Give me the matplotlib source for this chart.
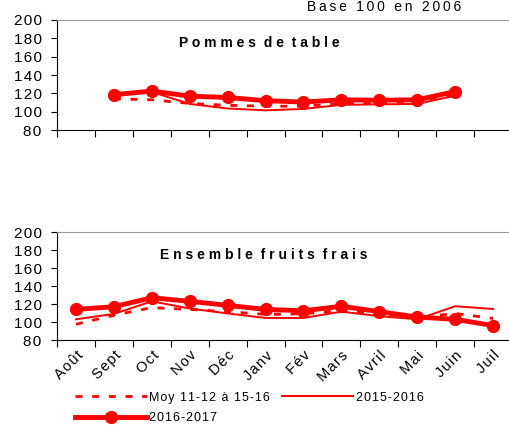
import matplotlib
matplotlib.use("Agg")
import matplotlib.pyplot as plt
import matplotlib.transforms as mtransforms
import numpy as np

plt.rcParams["font.family"] = ["Liberation Sans", "DejaVu Sans"]

mois = ["Août", "Sept", "Oct", "Nov", "Déc", "Janv", "Fév", "Mars", "Avril", "Mai", "Juin", "Juil"]

# Pommes de table (Sept -> Juin)
pommes_moy = [None, 114, 113, 109, 107, 106, 106, 109, 110, 111, 118, None]
pommes_1516 = [None, 118, 121.5, 108.5, 103.5, 101.5, 103, 107.5, 108, 108.5, 117.5, None]
pommes_1617 = [None, 118.5, 122.5, 117, 115.5, 112, 110.5, 113, 112.5, 113, 122, None]

# Ensemble fruits frais
fruits_moy = [97.5, 107.5, 116, 114, 111.5, 108.5, 109, 113, 109, 105, 109.5, 104]
fruits_1516 = [103, 109, 123, 115, 109.5, 104.5, 104.5, 111.5, 106.5, 103, 117.5, 114.5]
fruits_1617 = [114, 117, 127, 123, 118.5, 114, 112.5, 117.5, 111.5, 105.5, 103, 96]

RED = "#ff0000"


def spaced(s, sep="\u200a"):
    # espacement des lettres façon Excel
    return sep.join(s)


def to_arr(vals):
    return np.array([np.nan if v is None else v for v in vals], dtype=float)


def panel(ax, titre, tx, moy, s1516, s1617, labels):
    x = np.arange(len(mois))
    l1, = ax.plot(x, to_arr(moy), color=RED, lw=2, ls=(0, (2.5, 3.5)))
    l2, = ax.plot(x, to_arr(s1516), color=RED, lw=1.4)
    l3, = ax.plot(x, to_arr(s1617), color=RED, lw=3.5, marker="o", ms=8.5)
    ax.set_xlim(-0.5, 11.5)
    ax.set_ylim(80, 200)
    yt = list(range(80, 201, 20))
    ax.set_yticks(yt)
    ax.set_yticklabels([spaced(str(v)) for v in yt])
    ax.tick_params(axis="y", labelsize=11, length=4, direction="out", pad=7)
    ax.set_xticks(np.arange(-0.5, 12, 1))
    ax.set_xticklabels([])
    ax.tick_params(axis="x", which="major", length=5, direction="out")
    ax.set_xticks(x, minor=True)
    if labels:
        lbls = ax.set_xticklabels([spaced(m) for m in mois], minor=True, rotation=45,
                                  ha="right", rotation_mode="anchor", fontsize=10.5)
        off = mtransforms.ScaledTranslation(-8 / 72, 0, ax.figure.dpi_scale_trans)
        for t in lbls:
            t.set_transform(t.get_transform() + off)
    ax.tick_params(axis="x", which="minor", length=0, pad=6)
    ax.spines["right"].set_visible(False)
    ax.spines["top"].set_color("#999999")
    ax.spines["top"].set_linewidth(0.8)
    ax.text(tx, 0.79, titre, transform=ax.transAxes, ha="center", va="center",
            fontsize=10, fontweight="bold")
    return l1, l2, l3


fig = plt.figure(figsize=(5.09, 4.25), dpi=100)
ax1 = fig.add_axes([0.112, 0.694, 0.894, 0.259])
ax2 = fig.add_axes([0.112, 0.200, 0.894, 0.254])

panel(ax1, "P o m m e s  d e  t a b l e", 0.444,
      pommes_moy, pommes_1516, pommes_1617, False)
l1, l2, l3 = panel(ax2, "E n s e m b l e  f r u i t s  f r a i s", 0.455,
                   fruits_moy, fruits_1516, fruits_1617, True)

fig.text(0.755, 0.999, spaced("Base 100 en 2006", "\u2009"), ha="center", va="top",
         fontsize=10)

fig.legend([l1, l3, l2],
           [spaced("Moy 11-12 à 15-16"), spaced("2016-2017"), spaced("2015-2016")],
           ncol=2, loc="upper left", bbox_to_anchor=(0.148, 0.078), frameon=False,
           fontsize=9, handlelength=5.7, handletextpad=0.2, columnspacing=0.95,
           labelspacing=0.65, borderaxespad=0, borderpad=0)

fig.savefig("out.png", dpi=100)
